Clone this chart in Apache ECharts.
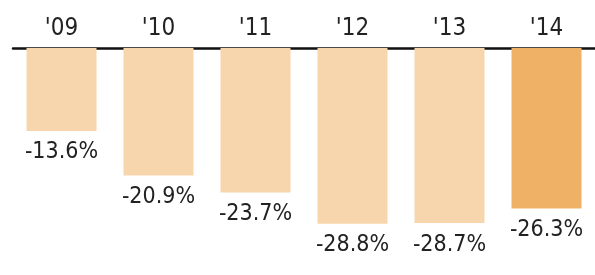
<!DOCTYPE html>
<html lang="en">
<head>
    <meta charset="UTF-8">
    <title>Annual change</title>
    <style>
        html, body { margin: 0; padding: 0; background: #fff; }
        #chart { width: 595px; height: 275px; }
    </style>
</head>
<body>
<div id="chart"></div>
<script src="https://cdn.jsdelivr.net/npm/echarts@6/dist/echarts.min.js"></script>
<script>
    var years = ["'09", "'10", "'11", "'12", "'13", "'14"];
    var changes = [-13.6, -20.9, -23.7, -28.8, -28.7, -26.3];
    var highlight = ["'14"];

    var lightColor = '#f7d6ae';
    var darkColor = '#efb166';
    var fontFamily = '"DejaVu Sans Condensed", "Roboto", sans-serif';

    var chart = echarts.init(document.getElementById('chart'));

    var barData = [];
    for (var i = 0; i < years.length; i++) {
        barData.push({
            value: changes[i],
            itemStyle: {
                color: highlight.indexOf(years[i]) >= 0 ? darkColor : lightColor
            }
        });
    }

    chart.setOption({
        animation: false,
        grid: {
            left: 13,
            top: 48,
            width: 586,
            height: 183
        },
        xAxis: {
            type: 'category',
            position: 'top',
            data: years,
            axisLine: { lineStyle: { color: '#111', width: 2.5 } },
            axisTick: { show: false },
            axisLabel: {
                color: '#222',
                fontSize: 24,
                fontFamily: fontFamily,
                margin: 7
            }
        },
        yAxis: {
            type: 'value',
            min: -30,
            max: 0,
            show: false
        },
        series: [{
            type: 'bar',
            data: barData,
            barWidth: 70,
            label: {
                show: true,
                position: 'bottom',
                distance: 10,
                color: '#222',
                fontSize: 23,
                fontFamily: fontFamily,
                formatter: function (p) {
                    return p.value.toFixed(1) + '%';
                }
            }
        }]
    });
</script>
</body>
</html>
